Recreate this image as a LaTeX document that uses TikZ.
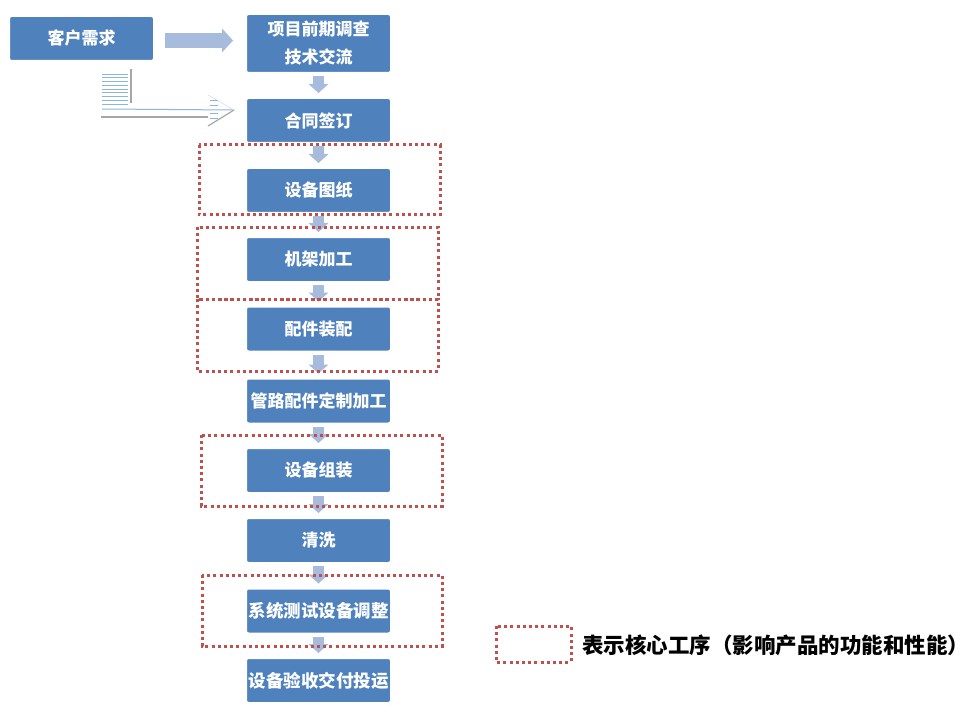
\documentclass[tikz,border=0pt]{standalone}
\usepackage{fontspec}
\newfontfamily\cjk{Noto Sans CJK SC}
\usetikzlibrary{arrows.meta, shadows}
\definecolor{boxblue}{HTML}{4F81BD}
\definecolor{arrblue}{HTML}{A7BCDC}
\definecolor{corered}{HTML}{C0504D}
\definecolor{stripeblue}{HTML}{8DB3E2}
\definecolor{linegray}{HTML}{A6A6A6}
\begin{document}
\begin{tikzpicture}[x=1pt, y=-1pt, font=\cjk,
  b/.style={draw=white, line width=3pt, fill=boxblue, rounded corners=3pt, align=center,
    text=white, font=\cjk\bfseries\fontsize{17}{28}\selectfont, minimum width=146pt, minimum height=46pt,
    drop shadow={shadow xshift=0.6pt, shadow yshift=-1.2pt, opacity=0.35, fill=gray}},
  wide/.style={inner xsep=1pt, font=\cjk\bfseries\fontsize{17.5}{20}\selectfont},
  core/.style={draw=corered, line width=3pt, dash pattern=on 3pt off 3.2pt},
  fl/.style={draw=arrblue, line width=11pt, -{Triangle[width=20pt, length=9pt, line width=0pt]},
    shorten <=1pt, shorten >=3pt}]
\useasboundingbox (0,0) rectangle (973,727);
% boxes
\node[b] (kh) at (81.5,38.5) {客户需求};
\node[b, minimum height=60pt] (xm) at (318.5,43.5) {项目前期调查\\技术交流};
\node[b] (ht) at (318.5,120.5) {合同签订};
\node[b] (tz) at (318.5,190.5) {设备图纸};
\node[b] (jj) at (318.5,259.5) {机架加工};
\node[b] (pj) at (318.5,329) {配件装配};
\node[b] (gl) at (318.5,401) {管路配件定制加工};
\node[b] (zz) at (318.5,470.5) {设备组装};
\node[b] (qx) at (318.5,540.5) {清洗};
\node[b, wide] (cs) at (318.5,611) {系统测试设备调整};
\node[b, wide] (ys) at (318.5,680.5) {设备验收交付投运};
% flow arrows
\foreach \u/\v in {xm/ht, ht/tz, tz/jj, jj/pj, pj/gl, gl/zz, zz/qx, qx/cs, cs/ys}
  \draw[fl] (\u.south) -- (\v.north);
\draw[draw=arrblue, line width=15pt, -{Triangle[width=24pt, length=11pt, line width=0pt]},
  shorten <=9pt, shorten >=11pt] ([yshift=-2pt]kh.east) -- ([yshift=-2pt]kh.east -| xm.west);
% striped arrow
\foreach \i in {0,...,8}
  \draw[stripeblue, line width=0.9pt] (102,74+3.75*\i) -- (128,74+3.75*\i);
\draw[linegray, line width=1.5pt] (131,69) -- (131,103);
\coordinate (tip) at (234,110);
\draw[stripeblue, line width=1pt] (102,109) -- (tip);
\draw[linegray, line width=2pt] (101,117) -- (208,117);
\draw[linegray, line width=1.2pt] (208,126) -- (tip);
\draw[linegray!40, line width=0.6pt] (208,95) -- (tip);
\foreach \yy in {100,105,113,118}
  \draw[stripeblue, line width=0.9pt] (210,\yy) -- (218,\yy);
% core processes
\draw[core] (199,145) rectangle (440,215);
\draw[core] (197,227) rectangle (438,299);
\draw[core] (197,299) rectangle (438,371);
\draw[core] (201,435) rectangle (442,506);
\draw[core] (202,575) rectangle (442,646);
% legend
\draw[core] (496,626) rectangle (571,662);
\node[anchor=west, inner sep=0pt, font=\cjk\bfseries\fontsize{21.5}{24}\selectfont] (lg) at (582,645)
  {表示核心工序（影响产品的功能和性能）};
\end{tikzpicture}
\end{document}
